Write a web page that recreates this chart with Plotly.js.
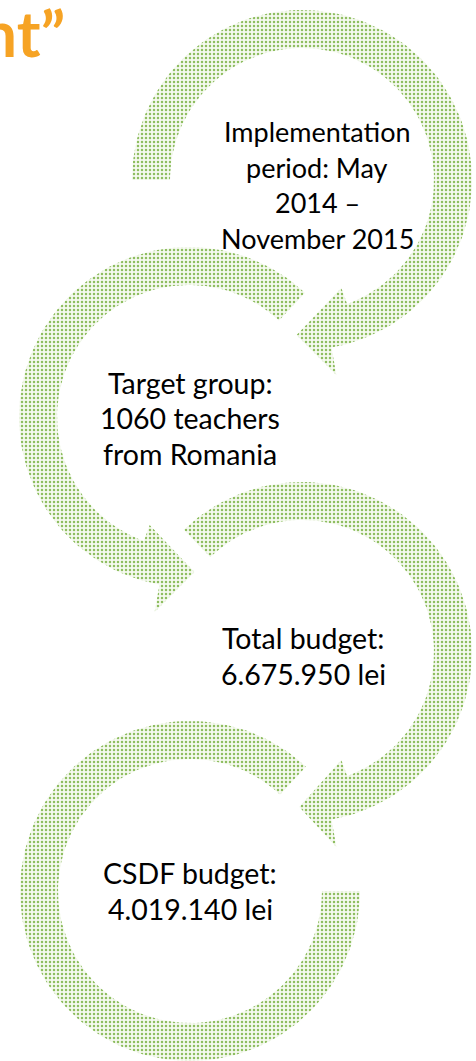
<!DOCTYPE html>
<html>
<head>
<meta charset="utf-8">
<script src="https://cdn.plot.ly/plotly-3.0.1.min.js"></script>
<style>html,body{margin:0;padding:0;background:#fff;overflow:hidden}#chart{width:476px;height:1061px}</style>
</head>
<body>
<div id="chart"></div>
<script>
// ---- content (data) ----
const titleText = "nt\u201D";
const stepNames = ["Implementation period", "Target group", "Total budget", "CSDF budget"];
const stepLines = [
  ["Implementation", "period: May", "2014 \u2013", "November 2015"],
  ["Target group:", "1060 teachers", "from Romania"],
  ["Total budget:", "6.675.950 lei"],
  ["CSDF budget:", "4.019.140 lei"]
];

// ---- diagram geometry / style (not data) ----
const W = 476, H = 1061;
const R_OUT = 170, R_IN = 132;
const rings = [
  {cx: 302, cy: 180, a0: 180, dir: 1, head: {inA: 430, outA: 440, tipA: 452}, tx: 317, ty: 185, fs: 27},
  {cx: 189, cy: 417, a0: 313, dir: -1, head: {inA: 110, outA: 100, tipA: 88}, tx: 190, ty: 418, fs: 28.5},
  {cx: 302, cy: 652, a0: 226, dir: 1, head: {inA: 430, outA: 440, tipA: 451}, tx: 303, ty: 656, fs: 28.5},
  {cx: 190, cy: 891, a0: 313, dir: -1, flatEnd: 0, tx: 190, ty: 891, fs: 28.5}
];
const LINE_H = 35.5;

function pt(c, rad, ang) {
  const a = ang * Math.PI / 180;
  return [c.cx + rad * Math.cos(a), c.cy + rad * Math.sin(a)];
}
function arc(c, rad, from, to) {
  const pts = [];
  const n = Math.max(2, Math.ceil(Math.abs(to - from) / 2));
  for (let i = 0; i <= n; i++) pts.push(pt(c, rad, from + (to - from) * i / n));
  return pts;
}
function ringShape(c) {
  let pts = [];
  if (c.head) {
    const h = c.head;
    pts = pts.concat(arc(c, R_OUT, c.a0, h.outA));
    pts.push(pt(c, R_OUT + 28, h.outA));
    pts.push(pt(c, (R_OUT + R_IN) / 2 + 4, h.tipA));
    pts.push(pt(c, R_IN - 17, h.inA));
    pts = pts.concat(arc(c, R_IN, h.inA, c.a0));
  } else {
    pts = pts.concat(arc(c, R_OUT, c.a0, c.flatEnd));
    pts = pts.concat(arc(c, R_IN, c.flatEnd, c.a0));
  }
  pts.push(pts[0]);
  return pts;
}

const traces = rings.map((c, i) => {
  const p = ringShape(c);
  return {
    type: 'scatter', mode: 'lines', name: stepNames[i],
    x: p.map(q => q[0]), y: p.map(q => q[1]),
    fill: 'toself', line: {width: 0, color: 'rgba(0,0,0,0)'},
    fillcolor: '#ffffff',
    fillpattern: {shape: '.', fgcolor: '#8fbe60', bgcolor: '#f6faf0', size: 4, solidity: 0.3},
    hoverinfo: 'skip'
  };
});

const annotations = [];
rings.forEach((c, i) => {
  const lines = stepLines[i];
  const n = lines.length;
  lines.forEach((t, j) => {
    annotations.push({
      x: c.tx, y: c.ty + (j - (n - 1) / 2) * LINE_H, xref: 'x', yref: 'y',
      text: t, showarrow: false, xanchor: 'center', yanchor: 'middle',
      font: {family: 'Lato, "Open Sans", sans-serif', size: c.fs, color: '#000000'}
    });
  });
});
annotations.push({
  x: 67, y: 32, xref: 'x', yref: 'y', text: '<b>' + titleText + '</b>', showarrow: false,
  xanchor: 'right', yanchor: 'middle',
  font: {family: 'Lato, "Open Sans", sans-serif', size: 64, color: '#F6A324'}
});

const layout = {
  width: W, height: H, margin: {l: 0, r: 0, t: 0, b: 0},
  paper_bgcolor: '#ffffff', plot_bgcolor: '#ffffff', showlegend: false,
  xaxis: {range: [0, W], visible: false, fixedrange: true},
  yaxis: {range: [H, 0], visible: false, fixedrange: true},
  annotations: annotations
};
Plotly.newPlot('chart', traces, layout, {staticPlot: true, displayModeBar: false});
</script>
</body>
</html>
